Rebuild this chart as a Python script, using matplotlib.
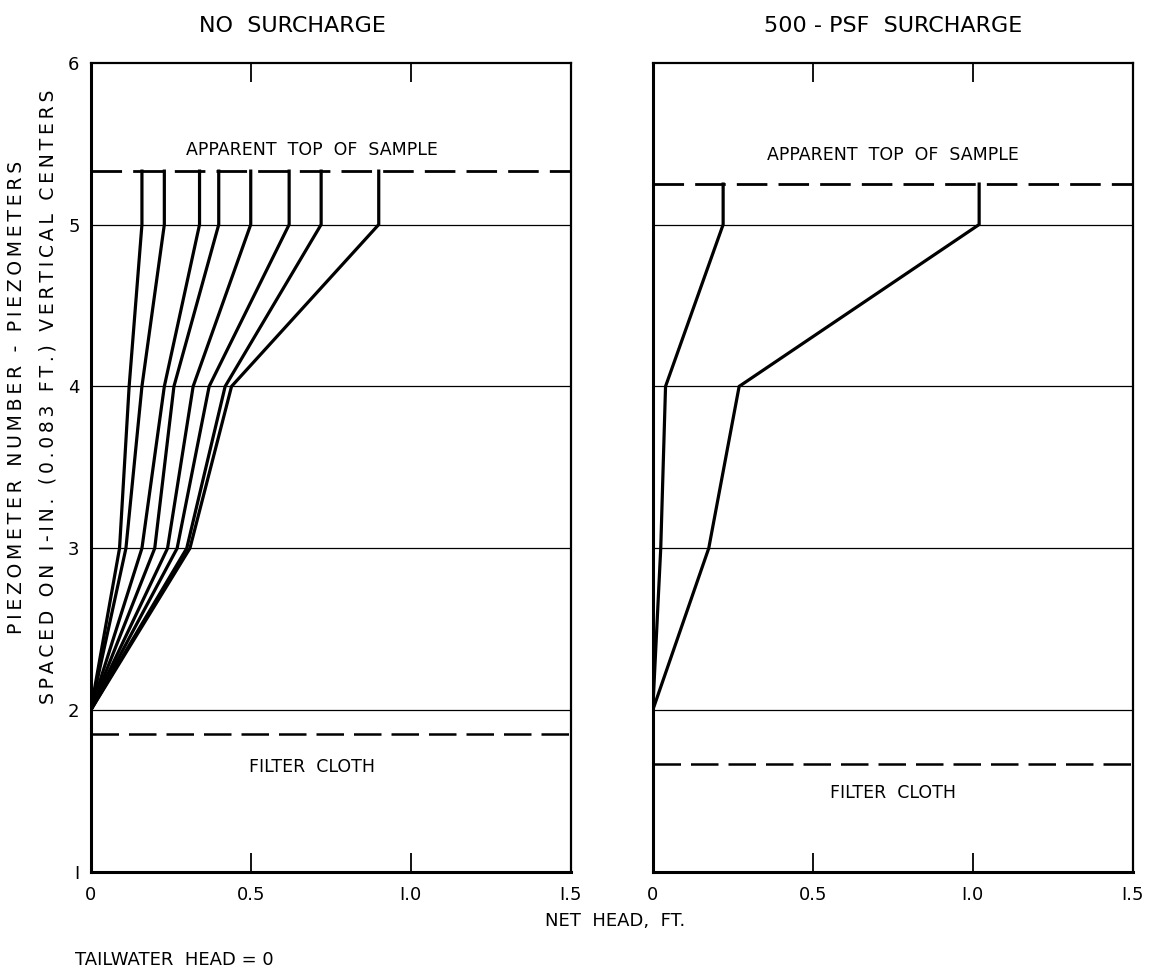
import matplotlib.pyplot as plt

plt.rcParams['font.family'] = ['DejaVu Sans']

# piezometer numbers (2..5) plus the apparent top of the sample
piezo = [2, 3, 4, 5]

# net head (ft) read at piezometers 2,3,4,5 - no surcharge, 8 runs
no_surcharge = [
    [0.0, 0.09, 0.12, 0.16],
    [0.0, 0.11, 0.16, 0.23],
    [0.0, 0.16, 0.23, 0.34],
    [0.0, 0.20, 0.26, 0.40],
    [0.0, 0.24, 0.32, 0.50],
    [0.0, 0.27, 0.37, 0.62],
    [0.0, 0.30, 0.42, 0.72],
    [0.0, 0.31, 0.44, 0.90],
]
top_no_surcharge = 5.33
cloth_no_surcharge = 1.85

# 500-psf surcharge, 2 runs
with_surcharge = [
    [0.0, 0.025, 0.04, 0.22],
    [0.0, 0.175, 0.27, 1.02],
]
top_surcharge = 5.25
cloth_surcharge = 1.67

xticks = [0, 0.5, 1.0, 1.5]
xticklabels = ['0', '0.5', 'I.0', 'I.5']
yticks = [1, 2, 3, 4, 5, 6]
yticklabels = ['I', '2', '3', '4', '5', '6']


def spaced(s):
    # wide lettering: thin space between the letters
    return '\u2009'.join(s)


fig = plt.figure(figsize=(11.5, 9.73), dpi=100)
ax1 = fig.add_axes([0.0789, 0.1038, 0.4174, 0.8318])
ax2 = fig.add_axes([0.5676, 0.1038, 0.4174, 0.8318])


def draw_panel(ax, runs, top, cloth, title, title_x, text_x, top_text_y, cloth_text_y):
    ax.set_xlim(0, 1.5)
    ax.set_ylim(1, 6)
    for yv in piezo:
        ax.axhline(yv, color='black', lw=0.9, zorder=1)
    ax.axhline(top, color='black', lw=2.0, dashes=(11, 4), zorder=1)
    ax.axhline(cloth, color='black', lw=1.8, dashes=(11, 4), zorder=1)
    for r in runs:
        xs = r + [r[-1]]
        ys = piezo + [top]
        ax.plot(xs, ys, color='black', lw=2.3, solid_joinstyle='round', zorder=3)
    ax.text(text_x, top_text_y, 'APPARENT  TOP  OF  SAMPLE', ha='center', va='center',
            fontsize=12.5)
    ax.text(text_x, cloth_text_y, 'FILTER  CLOTH', ha='center', va='center', fontsize=12.5)
    ax.text(title_x, 1.045, title, transform=ax.transAxes, ha='center', va='center',
            fontsize=16)
    ax.set_xticks(xticks)
    ax.set_xticklabels(xticklabels, fontsize=13)
    ax.tick_params(axis='x', direction='in', length=14, width=1.3, top=True, pad=10)
    for side in ['left', 'bottom']:
        ax.spines[side].set_linewidth(2.2)
    for side in ['right', 'top']:
        ax.spines[side].set_linewidth(1.6)


draw_panel(ax1, no_surcharge, top_no_surcharge, cloth_no_surcharge, 'NO  SURCHARGE',
           0.42, 0.69, 5.46, 1.65)
draw_panel(ax2, with_surcharge, top_surcharge, cloth_surcharge, '500 - PSF  SURCHARGE',
           0.5, 0.75, 5.43, 1.49)

ax1.set_yticks(yticks)
ax1.set_yticklabels(yticklabels, fontsize=13)
ax1.tick_params(axis='y', length=0, pad=8)
ax2.set_yticks([])

# two-line vertical axis title
fig.text(0.014, 0.592, spaced('PIEZOMETER NUMBER - PIEZOMETERS'), rotation=90,
         ha='center', va='center', fontsize=13.5)
fig.text(0.042, 0.592, spaced('SPACED ON I-IN. (0.083 FT.) VERTICAL CENTERS'), rotation=90,
         ha='center', va='center', fontsize=13.5)

fig.text(0.535, 0.053, 'NET  HEAD,  FT.', ha='center', va='center', fontsize=13)
fig.text(0.065, 0.013, 'TAILWATER  HEAD = 0', ha='left', va='center', fontsize=13)

plt.savefig('out.png', dpi=100)
